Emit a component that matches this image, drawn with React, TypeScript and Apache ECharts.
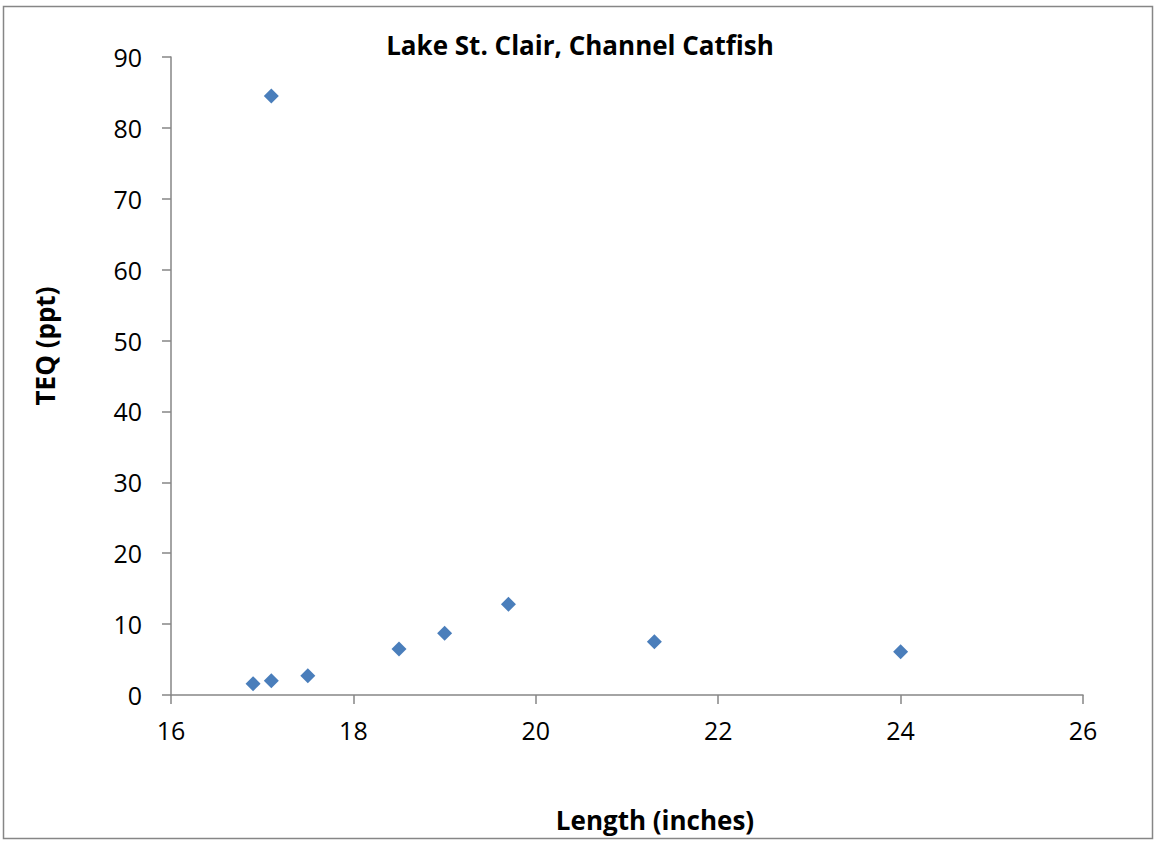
import React, { useEffect, useRef } from "react";
import * as echarts from "echarts";

const lengths = [16.9, 17.1, 17.1, 17.5, 18.5, 19.0, 19.7, 21.3, 24.0];
const teq = [1.6, 2.0, 84.5, 2.7, 6.5, 8.7, 12.8, 7.5, 6.1];
const chartTitle = "Lake St. Clair, Channel Catfish";
const xName = "Length (inches)";
const yName = "TEQ (ppt)";

const FONT = "'Open Sans', 'Liberation Sans', sans-serif";

export default function App() {
  const ref = useRef<HTMLDivElement>(null);
  useEffect(() => {
    if (!ref.current) return;
    const chart = echarts.init(ref.current, null, { renderer: "svg" });
    chart.setOption({
      animation: false,
      backgroundColor: "#ffffff",
      textStyle: { fontFamily: FONT },
      grid: { left: 171, right: 73, top: 57, bottom: 147 },
      xAxis: {
        type: "value",
        min: 16,
        max: 26,
        interval: 2,
        axisLine: { show: true, lineStyle: { color: "#868686", width: 1.5 } },
        axisTick: { show: true, inside: false, length: 9, lineStyle: { color: "#868686", width: 1.5 } },
        axisLabel: { color: "#000", fontSize: 25, margin: 22, fontFamily: FONT },
        splitLine: { show: false },
      },
      yAxis: {
        type: "value",
        min: 0,
        max: 90,
        interval: 10,
        axisLine: { show: true, lineStyle: { color: "#868686", width: 1.5 } },
        axisTick: { show: true, inside: false, length: 9, lineStyle: { color: "#868686", width: 1.5 } },
        axisLabel: { color: "#000", fontSize: 25, margin: 29, fontFamily: FONT },
        splitLine: { show: false },
      },
      series: [
        {
          type: "scatter",
          symbol: "diamond",
          symbolSize: 15,
          itemStyle: { color: "#4a7ebb", opacity: 1 },
          data: lengths.map((x, i) => [x, teq[i]]),
        },
      ],
      graphic: [
        {
          type: "rect",
          shape: { x: 3.5, y: 6.5, width: 1149, height: 832 },
          style: { fill: "none", stroke: "#868686", lineWidth: 1.5 },
          silent: true,
        },
        {
          type: "text",
          x: 580,
          y: 45,
          style: {
            text: chartTitle,
            font: `bold 26px ${FONT}`,
            fill: "#000",
            align: "center",
            verticalAlign: "middle",
          },
        },
        {
          type: "text",
          x: 655,
          y: 820,
          style: {
            text: xName,
            font: `bold 26px ${FONT}`,
            fill: "#000",
            align: "center",
            verticalAlign: "middle",
          },
        },
        {
          type: "text",
          x: 45,
          y: 346,
          rotation: Math.PI / 2,
          style: {
            text: yName,
            font: `bold 26px ${FONT}`,
            fill: "#000",
            align: "center",
            verticalAlign: "middle",
          },
        },
      ],
    });
    return () => chart.dispose();
  }, []);
  return (
    <div style={{ position: "absolute", left: 0, top: 0, width: 1156, height: 842 }}>
      <div ref={ref} style={{ width: 1156, height: 842 }} />
    </div>
  );
}
